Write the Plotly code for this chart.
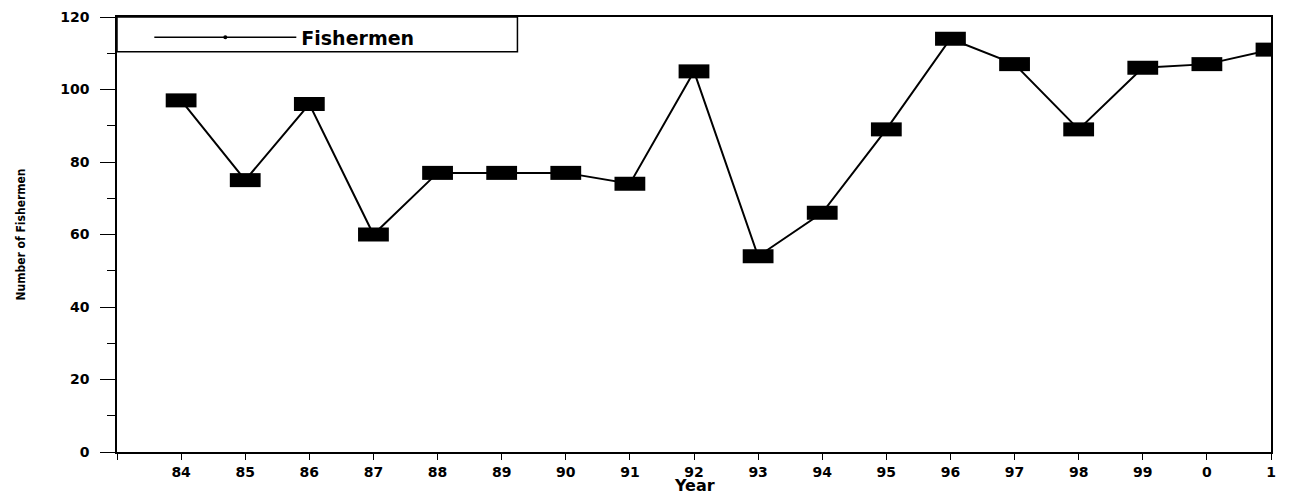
import plotly.graph_objects as go

years = [84, 85, 86, 87, 88, 89, 90, 91, 92, 93, 94, 95, 96, 97, 98, 99, 100, 101]
year_labels = ["84", "85", "86", "87", "88", "89", "90", "91", "92", "93", "94", "95", "96", "97", "98", "99", "0", "1"]
fishermen = [97, 75, 96, 60, 77, 77, 77, 74, 105, 54, 66, 89, 114, 107, 89, 106, 107, 111]
series_name = "Fishermen"
x_title = "Year"
y_title = "Number of Fishermen"

fig = go.Figure()
fig.add_trace(go.Scatter(
    x=years, y=fishermen, mode="lines+markers", showlegend=False,
    line=dict(color="black", width=2),
    marker=dict(symbol="line-ew", size=22, color="black",
                line=dict(color="black", width=14)),
))
# legend entry
fig.add_trace(go.Scatter(
    x=[None], y=[None], mode="lines+markers", name=series_name,
    line=dict(color="black", width=1.5),
    marker=dict(symbol="circle", size=4, color="black"),
))

tick_font = dict(family="DejaVu Sans, Arial, sans-serif", size=14, color="black", weight="bold")

fig.update_layout(
    width=1280, height=487,
    margin=dict(l=109, r=17, t=9, b=43, autoexpand=False),
    plot_bgcolor="white", paper_bgcolor="white",
    showlegend=True,
    legend=dict(x=0.028, y=0.997, xanchor="left", yanchor="top",
                borderwidth=0, bgcolor="rgba(0,0,0,0)",
                itemwidth=142,
                font=dict(family="DejaVu Sans, Arial, sans-serif", size=19, color="black", weight="bold")),
    shapes=[dict(type="rect", xref="paper", yref="paper",
                 x0=0, x1=0.347, y0=0.92, y1=1,
                 line=dict(color="black", width=1.5), fillcolor="white", layer="below")],
    annotations=[dict(text=x_title, xref="paper", yref="paper", x=0.5, y=0,
                      xanchor="center", yanchor="top", yshift=-22, showarrow=False,
                      font=dict(family="DejaVu Sans, Arial, sans-serif", size=16, color="black", weight="bold"))],
    xaxis=dict(
        range=[83, 101], tickmode="array",
        tickvals=[83] + years, ticktext=[""] + year_labels,
        showline=True, linecolor="black", linewidth=1.5, mirror=True,
        ticks="outside", ticklen=6, tickwidth=1.2, tickcolor="black",
        showgrid=False, zeroline=False, tickfont=tick_font, automargin=False,
    ),
    yaxis=dict(
        range=[0, 120], tickmode="linear", tick0=0, dtick=20,
        showline=True, linecolor="black", linewidth=1.5, mirror=True,
        ticks="outside", ticklen=15, tickwidth=1.2, tickcolor="black",
        ticklabelstandoff=8,
        minor=dict(ticks="outside", ticklen=8, dtick=10, tickcolor="black", tickwidth=1.2, showgrid=False),
        showgrid=False, zeroline=False, tickfont=tick_font, automargin=False,
        title=dict(text=y_title,
                   font=dict(family="DejaVu Sans Condensed, Liberation Sans Narrow, sans-serif", size=12, color="black", weight="bold"),
                   standoff=32),
    ),
)

fig.write_html("out.html")
